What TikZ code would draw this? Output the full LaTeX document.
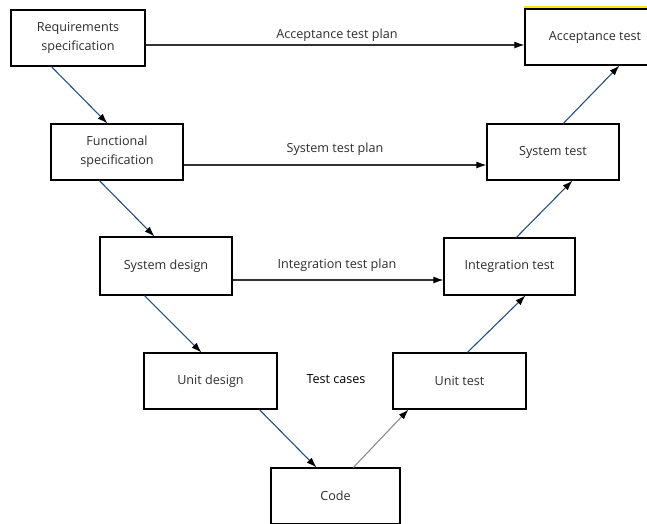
\documentclass[tikz,border=0pt]{standalone}
\usepackage{fontspec}
\setmainfont{Open Sans}
\usetikzlibrary{arrows.meta}
\definecolor{flow}{RGB}{36,80,126}
\definecolor{codeflow}{RGB}{140,140,140}
\definecolor{txt}{RGB}{45,45,45}
\definecolor{topline}{RGB}{255,235,0}
\begin{document}
\begin{tikzpicture}[x=1pt,y=-1pt,
  stage/.style={draw=black,line width=1.2pt,fill=white,minimum width=132pt,minimum height=56pt,
    inner sep=2pt,align=center,font=\fontsize{12.6}{19}\selectfont,text=txt},
  plan/.style={font=\fontsize{12.6}{19}\selectfont,text=txt},
  down/.style={draw=flow,line width=1.1pt,-{Latex[length=10pt,width=7pt,black]}},
  across/.style={draw=black!80,line width=1.1pt,-{Latex[length=10pt,width=7pt,black]}},
  lift/.style={draw=codeflow,line width=1.1pt,-{Latex[length=10pt,width=7pt,black]}}]
\useasboundingbox (0,0) rectangle (647,523);

% left branch: specification and design
\node[stage,minimum width=134pt] (req) at (78,38) {Requirements\\specification};
\node[stage] (func) at (117,152) {Functional\\specification};
\node[stage,minimum height=58pt] (sd) at (166,266) {System design};
\node[stage,minimum width=133pt] (ud) at (210.5,381) {Unit design};
% bottom
\node[stage,minimum width=129pt] (code) at (335.5,496) {Code};
% right branch: testing
\node[stage,minimum width=133pt] (ut) at (459.5,381) {Unit test};
\node[stage,minimum width=131pt,minimum height=57pt] (it) at (509.5,266.5) {Integration test};
\node[stage] (st) at (553,152) {System test};
\node[stage,minimum width=140pt] (acc) at (595,37) {Acceptance test};
\draw[topline,line width=2pt] ([yshift=1]acc.north west) -- ([yshift=1]acc.north east);

% descending flow
\draw[down] ([xshift=41]req.south west) -- ([xshift=57]func.north west);
\draw[down] ([xshift=49]func.south west) -- ([xshift=55]sd.north west);
\draw[down] ([xshift=45]sd.south west) -- ([xshift=58]ud.north west);
\draw[down] ([xshift=116]ud.south west) -- ([xshift=46]code.north west);
% ascending flow
\draw[lift] ([xshift=83]code.north west) -- ([xshift=16]ut.south west);
\draw[down] ([xshift=75]ut.north west) -- ([xshift=82]it.south west);
\draw[down] ([xshift=73]it.north west) -- ([xshift=86]st.south west);
\draw[down] ([xshift=77]st.north west) -- ([xshift=95]acc.south west);

% test plans
\draw[across] ([yshift=-7]req.east) -- ([yshift=-7]req.east -| acc.west);
\draw[across] ([yshift=-13]func.east) -- ([yshift=-13]func.east -| st.west);
\draw[across] ([yshift=-14]sd.east) -- ([yshift=-14]sd.east -| it.west);
\node[plan] (atp) at (337,35) {Acceptance test plan};
\node[plan] (stp) at (335,149) {System test plan};
\node[plan] (itp) at (337,265) {Integration test plan};
\node[plan,text=black] (tc) at (336,379) {Test cases};
\end{tikzpicture}
\end{document}
